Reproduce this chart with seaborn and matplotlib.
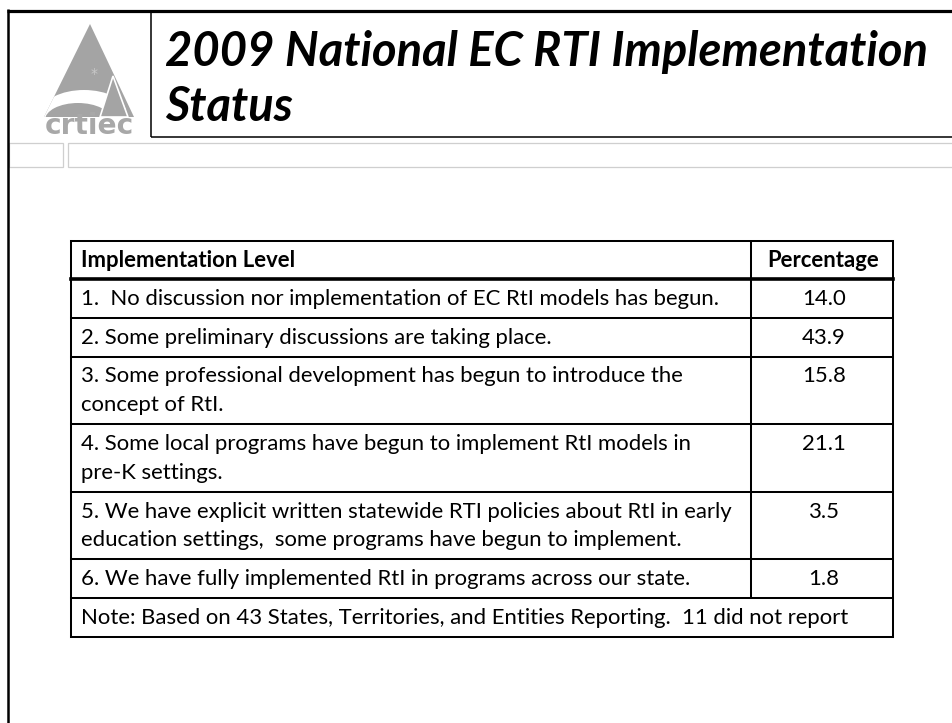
import matplotlib
matplotlib.use("Agg")
import matplotlib.pyplot as plt
import seaborn as sns
from matplotlib import font_manager
from matplotlib.patches import Polygon, Ellipse, Rectangle

# ---------------- data ----------------
title_lines = ["2009 National EC RTI Implementation", "Status"]
header_level = "Implementation Level"
header_pct = "Percentage"
levels = [
    "1.  No discussion nor implementation of EC RtI models has begun.",
    "2. Some preliminary discussions are taking place.",
    "3. Some professional development has begun to introduce the\nconcept of RtI.",
    "4. Some local programs have begun to implement RtI models in\npre-K settings.",
    "5. We have explicit written statewide RTI policies about RtI in early\neducation settings,  some programs have begun to implement.",
    "6. We have fully implemented RtI in programs across our state.",
]
percentages = [14.0, 43.9, 15.8, 21.1, 3.5, 1.8]
note = "Note: Based on 43 States, Territories, and Entities Reporting.  11 did not report"
logo_text = "crtiec"

# ---------------- style ----------------
sns.set_theme(style="white")
names = {f.name for f in font_manager.fontManager.ttflist}
def pick(cands, default="DejaVu Sans"):
    for c in cands:
        if c in names:
            return c
    return default
title_font = pick(["Liberation Sans Narrow", "Lato", "Open Sans"])
body_font = pick(["Lato", "Open Sans", "Noto Sans"])
plt.rcParams["font.family"] = [body_font, "DejaVu Sans"]

W, H = 952, 723
fig = plt.figure(figsize=(W / 100, H / 100), dpi=100)
ax = fig.add_axes([0, 0, 1, 1])
ax.set_xlim(0, W)
ax.set_ylim(H, 0)
ax.axis("off")
renderer = fig.canvas.get_renderer()

def fit_width(t, target):
    w = t.get_window_extent(renderer).width
    t.set_fontsize(t.get_fontsize() * target / w)
    return t.get_fontsize()

# ---------------- slide frame ----------------
ax.plot([7, W], [10.5, 10.5], color="black", lw=2.3, solid_capstyle="butt")
ax.plot([8, 8], [9, H], color="black", lw=1.8, solid_capstyle="butt")
ax.plot([151, 151], [10.5, 137], color="black", lw=1.1, solid_capstyle="butt")
ax.plot([151, W], [137, 137], color="black", lw=1.1, solid_capstyle="butt")
ax.add_patch(Rectangle((9, 143), 54, 24, fill=False, ec="#cfcfcf", lw=0.9))
ax.add_patch(Rectangle((68, 143), 900, 24, fill=False, ec="#cfcfcf", lw=0.9))

# ---------------- logo ----------------
gray = "#a4a4a4"
tri = Polygon([(90, 24), (44, 117), (134, 117)], closed=True, fc=gray, ec="none")
ax.add_patch(tri)
band = Ellipse((84, 112), 84, 44, fc="white", ec="none")
band.set_clip_path(tri)
ax.add_patch(band)
mound = Ellipse((78, 120), 66, 34, fc=gray, ec="none")
mound.set_clip_path(tri)
ax.add_patch(mound)
tree = Polygon([(113, 76), (100, 117), (128, 117)], closed=True, fc=gray, ec="white", lw=1.2)
tree.set_clip_path(tri)
ax.add_patch(tree)
ax.text(94, 74, "*", color="#c8c8c8", fontsize=10, ha="center", va="center",
        family="DejaVu Sans")
lt = ax.text(45, 134, logo_text, color="#a8a8a8", fontsize=12, fontweight="bold",
             ha="left", va="baseline", family="DejaVu Sans")
fit_width(lt, 89)

# ---------------- title ----------------
t1 = ax.text(165, 66, title_lines[0], fontsize=36, fontweight="bold", fontstyle="italic",
             family=[title_font, "DejaVu Sans"], ha="left", va="baseline", color="black")
tsize = fit_width(t1, 762)
ax.text(165, 121, title_lines[1], fontsize=tsize, fontweight="bold", fontstyle="italic",
        family=[title_font, "DejaVu Sans"], ha="left", va="baseline", color="black")

# ---------------- table ----------------
x0, xc, x1 = 71, 751, 893
y = 241
pad_x = 10
pitch = 28.75

# body font size fitted on the widest row
probe = ax.text(0, -100, levels[0], fontsize=13)
bsize = fit_width(probe, 638)
probe.remove()

def cell_lines(top, text, x, ha="left", weight="normal"):
    for k, line in enumerate(text.split("\n")):
        ax.text(x, top + 26 + pitch * k, line, fontsize=bsize, fontweight=weight,
                ha=ha, va="baseline", color="black")

lw_thin = 1.45
lw_thick = 2.6
# header
h_header = 38
cell_lines(y, header_level, x0 + pad_x, weight="bold")
cell_lines(y, header_pct, (xc + x1) / 2 + 1, ha="center", weight="bold")
ax.plot([x0, x1], [y, y], color="black", lw=lw_thin, solid_capstyle="projecting")
y += h_header
ax.plot([x0, x1], [y, y], color="black", lw=lw_thick, solid_capstyle="projecting")
# data rows
for lvl, val in zip(levels, percentages):
    n = lvl.count("\n") + 1
    h = 10 + pitch * n
    cell_lines(y, lvl, x0 + pad_x)
    cell_lines(y, f"{val:.1f}", (xc + x1) / 2 + 2, ha="center")
    y += h
    ax.plot([x0, x1], [y, y], color="black", lw=lw_thin, solid_capstyle="projecting")
y_div_end = y
# note row
cell_lines(y, note, x0 + pad_x)
y += 39
ax.plot([x0, x1], [y, y], color="black", lw=lw_thin, solid_capstyle="projecting")
ax.plot([x0, x0], [241, y], color="black", lw=lw_thin, solid_capstyle="projecting")
ax.plot([x1, x1], [241, y], color="black", lw=lw_thin, solid_capstyle="projecting")
ax.plot([xc, xc], [241, y_div_end], color="black", lw=lw_thin, solid_capstyle="butt")

fig.savefig("out.png", dpi=100, facecolor="white")
